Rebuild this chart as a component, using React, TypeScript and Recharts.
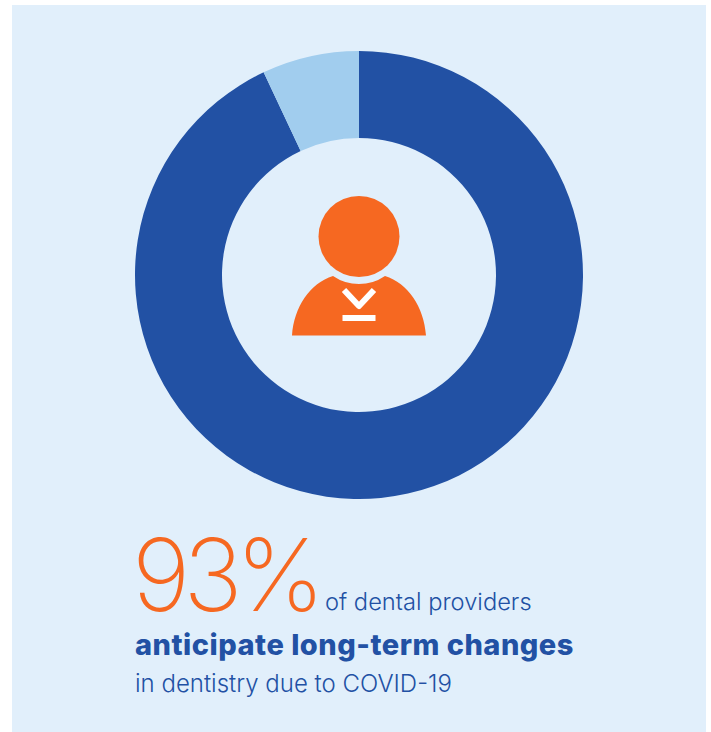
import * as React from "react";
import { PieChart, Pie, Cell } from "recharts";

const SEGMENT_NAMES = ["Anticipate changes", "Other"];
const SEGMENT_VALUES = [93, 7];
const SEGMENT_COLORS = ["#2251A4", "#A1CDEE"];

const HEADLINE = "93%";
const LINE_ONE = "of dental providers";
const LINE_TWO = "anticipate long-term changes";
const LINE_THREE = "in dentistry due to COVID-19";

const BLUE = "#2251A4";
const ORANGE = "#F66821";
const PANEL = "#E1EFFB";
const FONT = "Inter, sans-serif";

const pieData = SEGMENT_NAMES.map((name, i) => ({ name, value: SEGMENT_VALUES[i] }));

// person glyph in the hole of the donut
function PersonIcon() {
  return (
    <g>
      <circle cx={359} cy={236.5} r={40.5} fill={ORANGE} />
      <path
        d="M292 335.5 C294 307 310 283 333 276 A46 46 0 0 0 385 276 C408 283 424 307 426 335.5 Z"
        fill={ORANGE}
      />
      <path d="M344 290 L359 306 L374 290" fill="none" stroke="#fff" strokeWidth={6} strokeLinejoin="round" />
      <rect x={342.5} y={315} width={33} height={6} fill="#fff" />
    </g>
  );
}

export default function App() {
  return (
    <div style={{ position: "absolute", left: 0, top: 0, width: 711, height: 732, background: "#fff" }}>
      <div style={{ position: "absolute", left: 12, top: 5, width: 694, height: 727, background: PANEL }} />
      <div style={{ position: "absolute", left: 0, top: 0 }}>
        <PieChart width={711} height={732} margin={{ top: 0, right: 0, bottom: 0, left: 0 }}>
          <Pie
            data={pieData}
            dataKey="value"
            nameKey="name"
            cx={359}
            cy={275}
            innerRadius={137}
            outerRadius={224}
            startAngle={90}
            endAngle={-270}
            stroke="none"
            isAnimationActive={false}
          >
            {pieData.map((d, i) => (
              <Cell key={d.name} fill={SEGMENT_COLORS[i]} />
            ))}
          </Pie>
          <PersonIcon />
          <text x={132} y={611} fontFamily={FONT} fontWeight={200} fontSize={100} letterSpacing={-7} fill={ORANGE}>
            {HEADLINE}
          </text>
          <text x={325} y={610} fontFamily={FONT} fontWeight={300} fontSize={23.7} fill={BLUE}>
            {LINE_ONE}
          </text>
          <text x={135} y={655} fontFamily={FONT} fontWeight={800} fontSize={29} letterSpacing={0.5} fill={BLUE}>
            {LINE_TWO}
          </text>
          <text x={135} y={692} fontFamily={FONT} fontWeight={300} fontSize={24} fill={BLUE}>
            {LINE_THREE}
          </text>
        </PieChart>
      </div>
    </div>
  );
}
